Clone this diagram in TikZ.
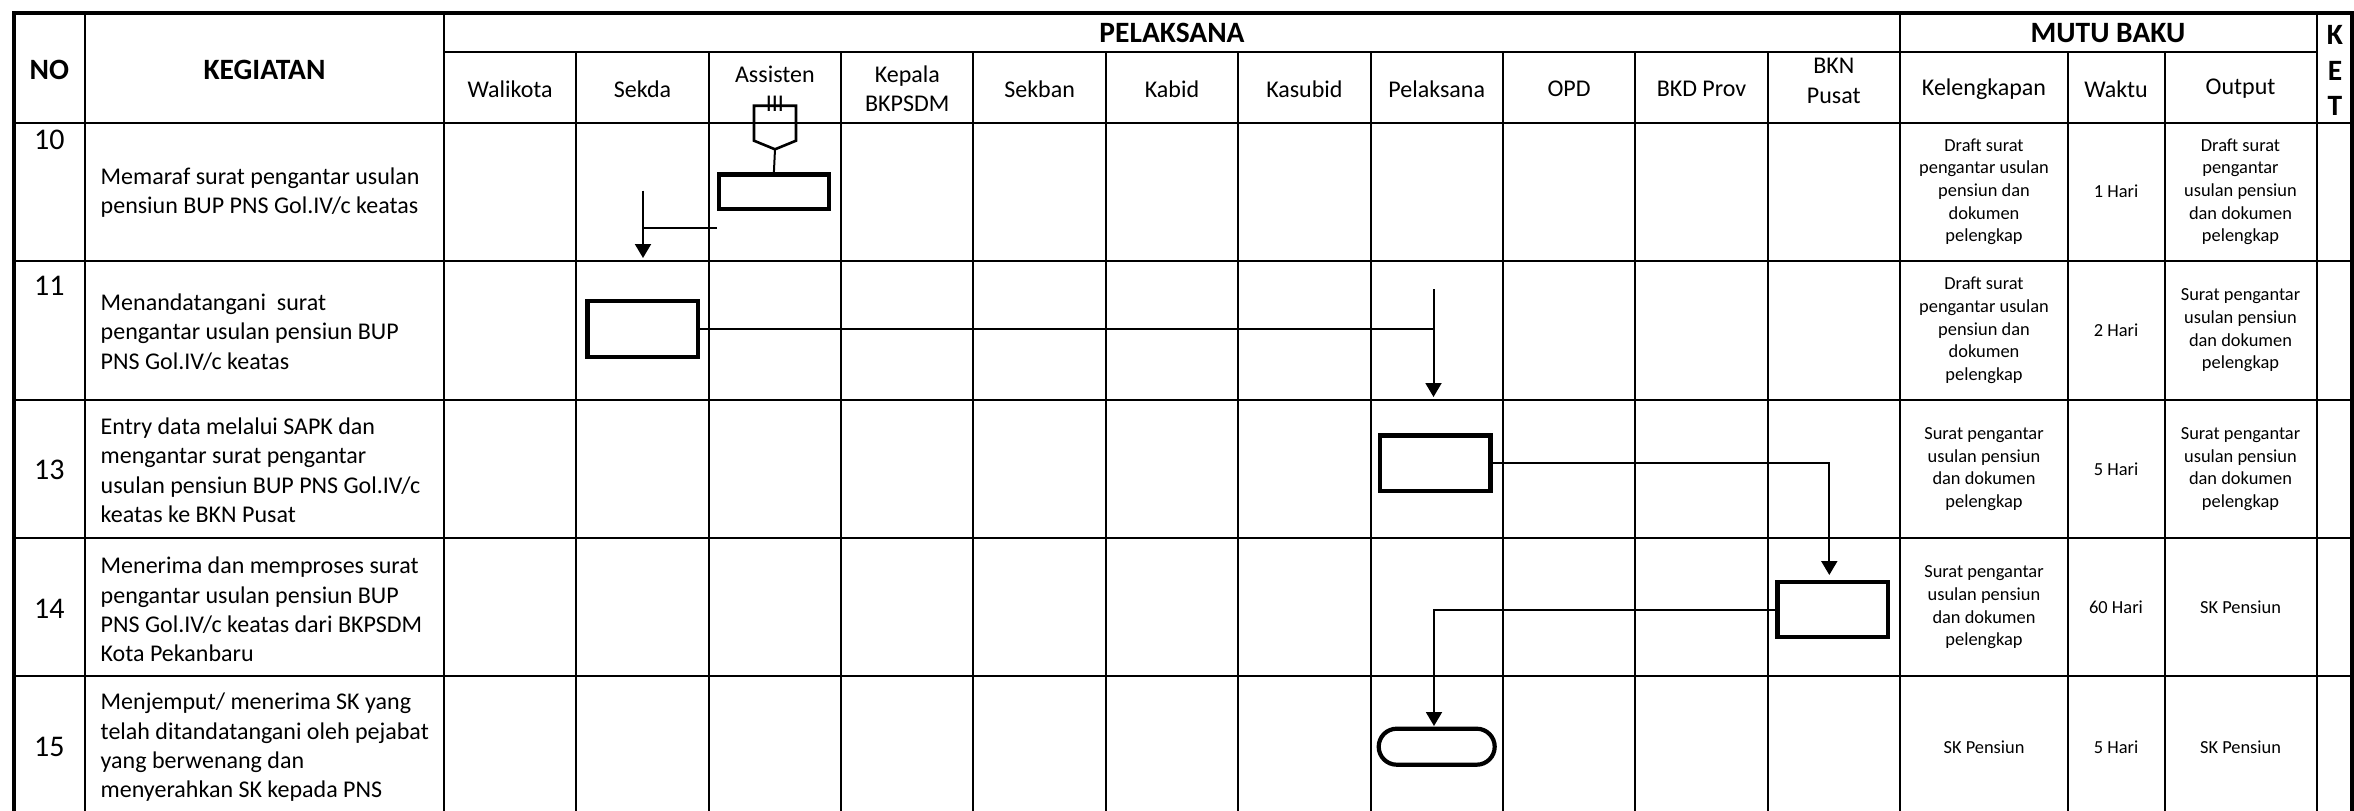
\documentclass[tikz,border=0pt]{standalone}
\usepackage{fontspec}
\setmainfont{Carlito}
\usetikzlibrary{arrows.meta}
\begin{document}
\begin{tikzpicture}[x=1pt,y=-1pt,
  grid/.style={line width=2pt},
  outer/.style={line width=4pt},
  procbox/.style={draw,line width=4.2pt,minimum width=110.5pt,minimum height=55.5pt,inner sep=0pt},
  termbox/.style={draw,line width=4.2pt,minimum width=116pt,minimum height=36pt,rounded corners=18pt,inner sep=0pt},
  conn/.style={line width=2pt},
  arr/.style={-{Triangle[width=16pt,length=14pt]}},
  hdr/.style={font=\fontsize{29.5}{35.5}\selectfont\bfseries,align=center,inner sep=0pt},
  lane/.style={font=\fontsize{24}{29.5}\selectfont,align=center,inner sep=0pt},
  numtxt/.style={font=\fontsize{30}{36}\selectfont,align=center,inner sep=0pt},
  body/.style={font=\fontsize{24}{29.3}\selectfont,align=left,anchor=west,inner sep=0pt},
  small/.style={font=\fontsize{18.4}{22.7}\selectfont,align=center,inner sep=0pt}
]
\useasboundingbox (0,0) rectangle (2354,811);
% ---------- grid ----------
\foreach \x in {85,444,1900,2316.5} \draw[grid] (\x,12.7) -- (\x,811);
\foreach \i in {1,...,10} \draw[grid] ({444+\i*132.3636},52) -- ({444+\i*132.3636},811);
\foreach \x in {2068,2164.5} \draw[grid] (\x,52) -- (\x,811);
\draw[grid] (444,52) -- (2316.5,52);
\foreach \y in {122.5,261,399.5,538,676} \draw[grid] (13.5,\y) -- (2352,\y);
\draw[outer] (13.5,811) -- (13.5,12.7) -- (2352,12.7) -- (2352,811);
% ---------- headers ----------
\node[hdr] (hno) at (49.3,70) {NO};
\node[hdr] (hkeg) at (264.5,70) {KEGIATAN};
\node[hdr] (hpel) at (1172,33) {PELAKSANA};
\node[hdr] (hmutu) at (2108,33) {MUTU BAKU};
\node[hdr] (hket) at (2335,70.5) {K\\E\\T};
\node[lane] (l0) at (510.2,89) {Walikota};
\node[lane] (l1) at (642.5,89) {Sekda};
\node[lane] (l2) at (774.9,88.5) {Assisten\\III};
\node[lane] (l3) at (907.3,88.5) {Kepala\\BKPSDM};
\node[lane] (l4) at (1039.6,89) {Sekban};
\node[lane] (l5) at (1172,89) {Kabid};
\node[lane] (l6) at (1304.4,89) {Kasubid};
\node[lane] (l7) at (1436.7,89) {Pelaksana};
\node[lane] (l8) at (1569.1,89) {OPD};
\node[lane] (l9) at (1701.5,89) {BKD Prov};
\node[lane] (l10) at (1833.8,81) {BKN\\Pusat};
\node[lane] (m1) at (1984,89) {Kelengkapan};
\node[lane] (m2) at (2116,89) {Waktu};
\node[lane] (m3) at (2240.5,89) {Output};
% ---------- numbers ----------
\node[numtxt] (n10) at (49.3,140) {10};
\node[numtxt] (n11) at (49.3,286) {11};
\node[numtxt] (n13) at (49.3,470) {13};
\node[numtxt] (n14) at (49.3,609) {14};
\node[numtxt] (n15) at (49.3,747) {15};
% ---------- activities ----------
\node[body] (k10) at (100.5,192.8) {Memaraf surat pengantar usulan\\pensiun BUP PNS Gol.IV/c keatas};
\node[body] (k11) at (100.5,332) {Menandatangani~ surat\\pengantar usulan pensiun BUP\\PNS Gol.IV/c keatas};
\node[body] (k13) at (100.5,470.4) {Entry data melalui SAPK dan\\mengantar surat pengantar\\usulan pensiun BUP PNS Gol.IV/c\\keatas ke BKN Pusat};
\node[body] (k14) at (100.5,609.6) {Menerima dan memproses surat\\pengantar usulan pensiun BUP\\PNS Gol.IV/c keatas dari BKPSDM\\Kota Pekanbaru};
\node[body] (k15) at (100.5,747.5) {Menjemput/ menerima SK yang\\telah ditandatangani oleh pejabat\\yang berwenang dan\\menyerahkan SK kepada PNS};
% ---------- mutu baku ----------
\node[small] (a10) at (1984,191.7) {Draft surat\\pengantar usulan\\pensiun dan\\dokumen\\pelengkap};
\node[small] (b10) at (2116,191.7) {1 Hari};
\node[small] (c10) at (2240.5,191.7) {Draft surat\\pengantar\\usulan pensiun\\dan dokumen\\pelengkap};
\node[small] (a11) at (1984,330.5) {Draft surat\\pengantar usulan\\pensiun dan\\dokumen\\pelengkap};
\node[small] (b11) at (2116,330.5) {2 Hari};
\node[small] (c11) at (2240.5,330.5) {Surat pengantar\\usulan pensiun\\dan dokumen\\pelengkap};
\node[small] (a13) at (1984,469) {Surat pengantar\\usulan pensiun\\dan dokumen\\pelengkap};
\node[small] (b13) at (2116,469) {5 Hari};
\node[small] (c13) at (2240.5,469) {Surat pengantar\\usulan pensiun\\dan dokumen\\pelengkap};
\node[small] (a14) at (1984,607.5) {Surat pengantar\\usulan pensiun\\dan dokumen\\pelengkap};
\node[small] (b14) at (2116,607.5) {60 Hari};
\node[small] (c14) at (2240.5,607.5) {SK Pensiun};
\node[small] (a15) at (1984,747) {SK Pensiun};
\node[small] (b15) at (2116,747) {5 Hari};
\node[small] (c15) at (2240.5,747) {SK Pensiun};
% ---------- flow shapes ----------
\draw[line width=2.6pt,line join=miter] (754,105.7) -- (796,105.7) -- (796,140.7) -- (775,149.3) -- (754,140.7) -- cycle;
\coordinate (op) at (775,149.3);
\node[procbox,minimum height=34.5pt] (p10) at (773.9,191.7) {};
\node[procbox] (p11) at (642.8,329) {};
\node[procbox] (p13) at (1435.2,463.2) {};
\node[procbox] (p14) at (1832.7,609.5) {};
\node[termbox] (t15) at (1436.7,746.7) {};
% ---------- connectors ----------
\draw[conn] (op) -- (p10.north);
\coordinate (h10) at (717,227.7);
\coordinate (s10) at (643,190.7);
\coordinate (e10) at (643,258);
\draw[conn] (h10) -- (s10 |- h10);
\draw[conn,arr] (s10) -- (e10);
\coordinate (s11) at (1433.5,289);
\coordinate (e11) at (1433.5,397);
\draw[conn] (p11.east) -- (s11 |- p11.east);
\draw[conn,arr] (s11) -- (e11);
\coordinate (e13) at (1829.3,575);
\draw[conn,arr] (p13.east) -| (e13);
\coordinate (e14) at (1434,726);
\draw[conn,arr] (p14.west) -| (e14);
\end{tikzpicture}
\end{document}
